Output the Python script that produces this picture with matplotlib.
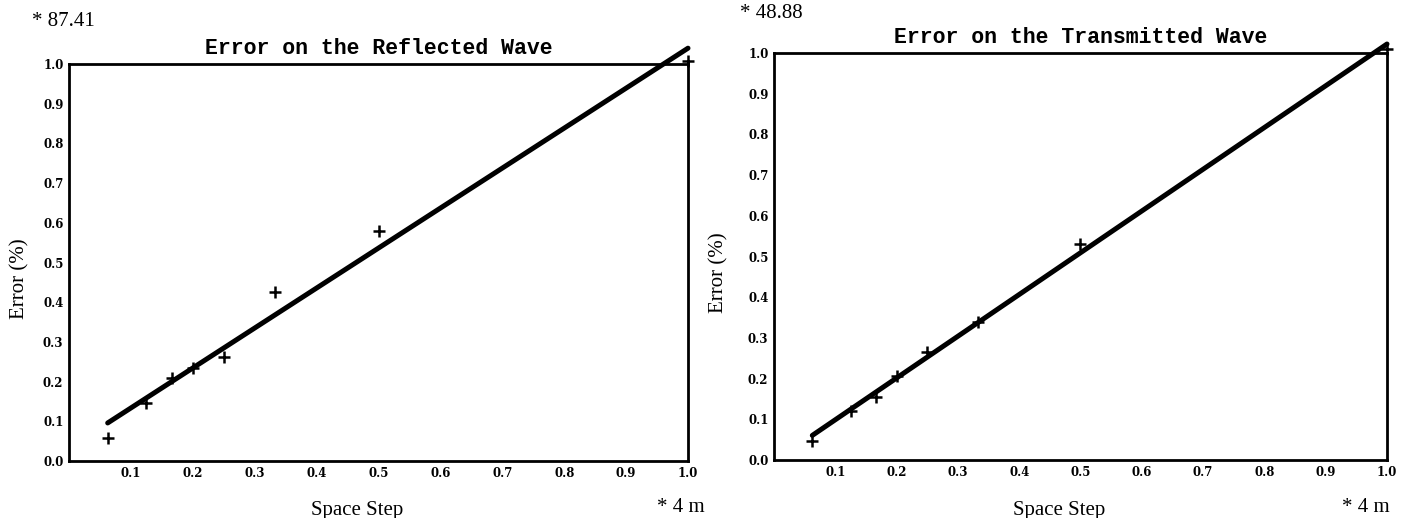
import numpy as np
import matplotlib
matplotlib.use("Agg")
import matplotlib.pyplot as plt

# space step (fraction of 4 m) and normalised error
space_step = [1 / 16, 1 / 8, 1 / 6, 1 / 5, 1 / 4, 1 / 3, 1 / 2, 1.0]
err_reflected = [0.058, 0.145, 0.208, 0.233, 0.262, 0.425, 0.58, 1.008]
err_transmitted = [0.047, 0.121, 0.155, 0.207, 0.266, 0.34, 0.53, 1.01]

titles = ["Error on the Reflected Wave", "Error on the Transmitted Wave"]
y_scales = ["* 87.41", "* 48.88"]
x_ticks = [0.1, 0.2, 0.3, 0.4, 0.5, 0.6, 0.7, 0.8, 0.9, 1.0]
y_ticks = [0.0, 0.1, 0.2, 0.3, 0.4, 0.5, 0.6, 0.7, 0.8, 0.9, 1.0]

W, H = 1405, 518
fig = plt.figure(figsize=(W / 100, H / 100), dpi=100)


def px_axes(left, right, top, bottom):
    return fig.add_axes([left / W, 1 - bottom / H, (right - left) / W, (bottom - top) / H])


axes = [px_axes(69, 688, 64, 461), px_axes(774, 1387, 53, 460)]
data = [err_reflected, err_transmitted]
ylabel_x = [-0.064, -0.074]

for ax, y, title, lx in zip(axes, data, titles, ylabel_x):
    x = np.array(space_step)
    # least squares line through the measured points
    slope, icpt = np.polyfit(x, y, 1)
    xs = np.array([x.min(), x.max()])
    ax.plot(xs, slope * xs + icpt, color="black", lw=3.6, solid_capstyle="round", clip_on=False)
    ax.plot(x, y, ls="none", marker="+", ms=9, mew=1.8, color="black", clip_on=False)

    ax.set_xlim(0, 1)
    ax.set_ylim(0, 1)
    ax.set_xticks(x_ticks)
    ax.set_yticks(y_ticks)
    ax.set_xticklabels([f"{t:.1f}" for t in x_ticks], family="DejaVu Serif", weight="bold", fontsize=8.5)
    ax.set_yticklabels([f"{t:.1f}" for t in y_ticks], family="DejaVu Serif", weight="bold", fontsize=8.5)
    ax.tick_params(length=0, pad=4)
    for s in ax.spines.values():
        s.set_linewidth(2)

    ax.set_title(title, family="Liberation Mono", weight="bold", fontsize=15.5, pad=7)
    ax.set_xlabel("Space Step", family="Liberation Serif", fontsize=15)
    ax.set_ylabel("Error (%)", family="Liberation Serif", fontsize=15)
    ax.xaxis.set_label_coords(0.465, -0.1)
    ax.yaxis.set_label_coords(lx, 0.46)

fig.text(32 / W, 1 - 22 / H, y_scales[0], family="Liberation Serif", fontsize=15, va="center")
fig.text(740 / W, 1 - 13 / H, y_scales[1], family="Liberation Serif", fontsize=15, va="center")
fig.text(705 / W, 1 - 507 / H, "* 4 m", family="Liberation Serif", fontsize=15, ha="right", va="center")
fig.text(1390 / W, 1 - 507 / H, "* 4 m", family="Liberation Serif", fontsize=15, ha="right", va="center")

fig.savefig("out.png", dpi=100, facecolor="white")
